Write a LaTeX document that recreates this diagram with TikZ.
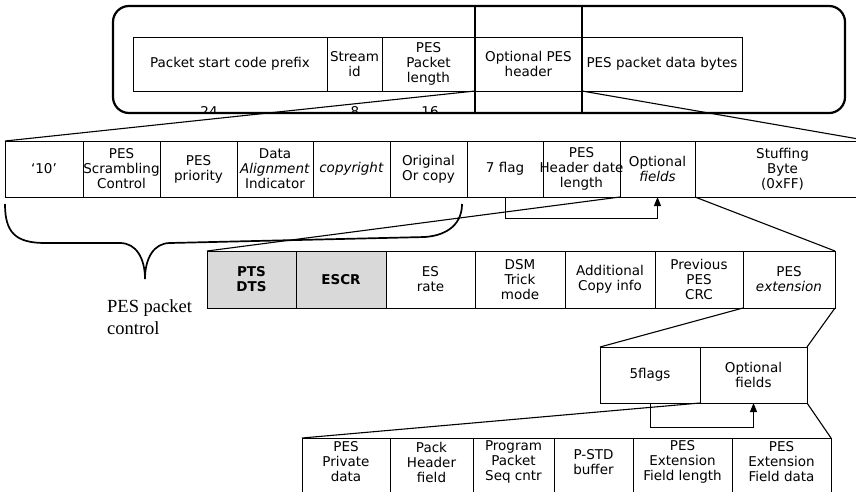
\documentclass[tikz,border=0pt]{standalone}
\usepackage{fontspec}
\setmainfont{DejaVu Sans}
\newfontfamily\myserif{Liberation Serif}
\usetikzlibrary{arrows.meta}
\tikzset{
  cellbox/.style={draw, line width=1pt, inner sep=1pt, outer sep=0pt, anchor=north west,
    align=center, font=\fontsize{13.5}{15}\selectfont},
  greycell/.style={cellbox, fill=black!15},
  opencell/.style={cellbox, draw=none},
  conn/.style={line width=1.1pt},
  flagarrow/.style={line width=1pt, -{Triangle[length=9pt,width=7pt]}},
  numlbl/.style={anchor=base, inner sep=0pt, font=\fontsize{13.5}{15}\selectfont},
  frame/.style={line width=2.2pt, rounded corners=16pt},
}
\newcommand\nowidth[1]{\makebox[0pt]{#1}}
\begin{document}
\begin{tikzpicture}[x=1pt, y=-1pt]
\useasboundingbox (0,0) rectangle (856,491);
\clip (0,0) rectangle (856,491);
\fill[white] (0,0) rectangle (856,491);

% ---- top packet frame
\draw[frame] (113,6) rectangle (845,113);
\coordinate (vt1) at (475,6); \coordinate (vb1) at (475,113);
\coordinate (vt2) at (582,6); \coordinate (vb2) at (582,113);
\draw[line width=2pt] (vt1) -- (vb1);
\draw[line width=2pt] (vt2) -- (vb2);

% ---- row 1
\node[cellbox, minimum width=194pt, minimum height=54pt] (psc) at (133,37) {Packet start code prefix};
\node[cellbox, minimum width=55pt, minimum height=54pt] (sid) at (327,37) {\nowidth{Stream}\\id};
\node[cellbox, minimum width=93pt, minimum height=54pt] (ppl) at (382,37) {PES\\Packet\\length};
\node[cellbox, minimum width=107pt, minimum height=54pt] (oph) at (475,37) {Optional PES\\header};
\node[cellbox, minimum width=160pt, minimum height=54pt] (pdb) at (582,37) {PES packet data bytes};

\begin{scope}
  \clip (150,95) rectangle (470,112.5);
  \node[numlbl] (n24) at (209,116) {24};
  \node[numlbl] (n8) at (355,116) {8};
  \node[numlbl] (n16) at (430,116) {16};
\end{scope}

% ---- row 2
\node[cellbox, minimum width=78pt, minimum height=56pt] (c10) at (5,141) {‘10’};
\node[cellbox, minimum width=77pt, minimum height=56pt] (scr) at (83,141) {PES\\\nowidth{Scrambling}\\Control};
\node[cellbox, minimum width=77pt, minimum height=56pt] (ppr) at (160,141) {PES\\priority};
\node[cellbox, minimum width=76pt, minimum height=56pt] (dai) at (237,141) {Data\\\textit{Alignment}\\Indicator};
\node[cellbox, minimum width=77pt, minimum height=56pt] (cpy) at (313,141) {\textit{copyright}};
\node[cellbox, minimum width=77pt, minimum height=56pt] (ooc) at (390,141) {Original\\Or copy};
\node[cellbox, minimum width=76pt, minimum height=56pt] (sfl) at (467,141) {7 flag};
\node[cellbox, minimum width=77pt, minimum height=56pt] (phd) at (543,141) {PES\\\nowidth{Header date}\\length};
\node[cellbox, minimum width=75pt, minimum height=56pt] (of1) at (620,141) {Optional\\\textit{fields}};
\node[cellbox, minimum width=175pt, minimum height=56pt] (stb) at (695,141) {Stuffing\\Byte\\(0xFF)};

\draw[conn] (oph.south west) -- (c10.north west);
\draw[conn] (oph.south east) -- (stb.north east);
\draw[flagarrow] (sfl.south) -- ++(0,21) -| (of1.south);

% ---- brace
\coordinate (brl) at (5,204);
\coordinate (brtip) at (145,279);
\coordinate (brr) at (462,204);
\draw[line width=1.7pt] (brl) .. controls (5,232) and (15,243) .. (45,243) -- (120,243)
  .. controls (136,243) and (145,258) .. (brtip)
  .. controls (145,258) and (154,243) .. (170,243) -- (425,237)
  .. controls (450,235) and (462,222) .. (brr);
\node[anchor=west, inner sep=0pt, align=left, font=\myserif\fontsize{18.5}{22}\selectfont] (ctl) at (107,317) {PES packet\\control};

% ---- row 3
\node[greycell, font=\bfseries\fontsize{13.5}{15}\selectfont, minimum width=89pt, minimum height=57pt] (pts) at (207,251) {PTS\\DTS};
\node[greycell, font=\bfseries\fontsize{13.5}{15}\selectfont, minimum width=90pt, minimum height=57pt] (escr) at (296,251) {ESCR};
\node[cellbox, minimum width=89pt, minimum height=57pt] (esr) at (386,251) {ES\\rate};
\node[cellbox, minimum width=90pt, minimum height=57pt] (dsm) at (475,251) {DSM\\Trick\\mode};
\node[cellbox, minimum width=90pt, minimum height=57pt] (aci) at (565,251) {Additional\\Copy info};
\node[cellbox, minimum width=88pt, minimum height=57pt] (ppc) at (655,251) {Previous\\PES\\CRC};
\node[cellbox, minimum width=92pt, minimum height=57pt] (pext) at (743,251) {PES\\\textit{extension}};

\draw[conn] (of1.south west) -- (pts.north west);
\draw[conn] (of1.south east) -- (pext.north east);

% ---- row 4
\node[cellbox, minimum width=100pt, minimum height=56pt] (fivef) at (600,347) {5flags};
\node[cellbox, minimum width=107pt, minimum height=56pt] (of2) at (700,347) {Optional\\fields};

\draw[conn] (pext.south west) -- (fivef.north west);
\draw[conn] (pext.south east) -- (of2.north east);
\draw[flagarrow] (fivef.south) -- ++(0,24) -| (of2.south);

% ---- row 5
\node[opencell, minimum width=88pt, minimum height=48pt] (ppd) at (302,438) {PES\\Private\\data};
\node[opencell, minimum width=83pt, minimum height=48pt] (phf) at (390,438) {Pack\\Header\\field};
\node[opencell, minimum width=81pt, minimum height=48pt] (pps) at (473,438) {Program\\Packet\\Seq cntr};
\node[opencell, minimum width=79pt, minimum height=48pt] (pstd) at (554,438) {P-STD\\buffer};
\node[opencell, minimum width=99pt, minimum height=48pt] (pefl) at (633,438) {PES\\Extension\\Field length};
\node[opencell, minimum width=99pt, minimum height=48pt] (pefd) at (732,438) {PES\\Extension\\Field data};
\foreach \n in {ppd,phf,pps,pstd,pefl,pefd}{
  \draw[line width=1pt] ([yshift=-14pt]\n.south west) |- (\n.north east) -- ([yshift=-14pt]\n.south east);
}

\draw[conn] (of2.south west) -- (ppd.north west);
\draw[conn] (of2.south east) -- (pefd.north east);
\end{tikzpicture}
\end{document}
